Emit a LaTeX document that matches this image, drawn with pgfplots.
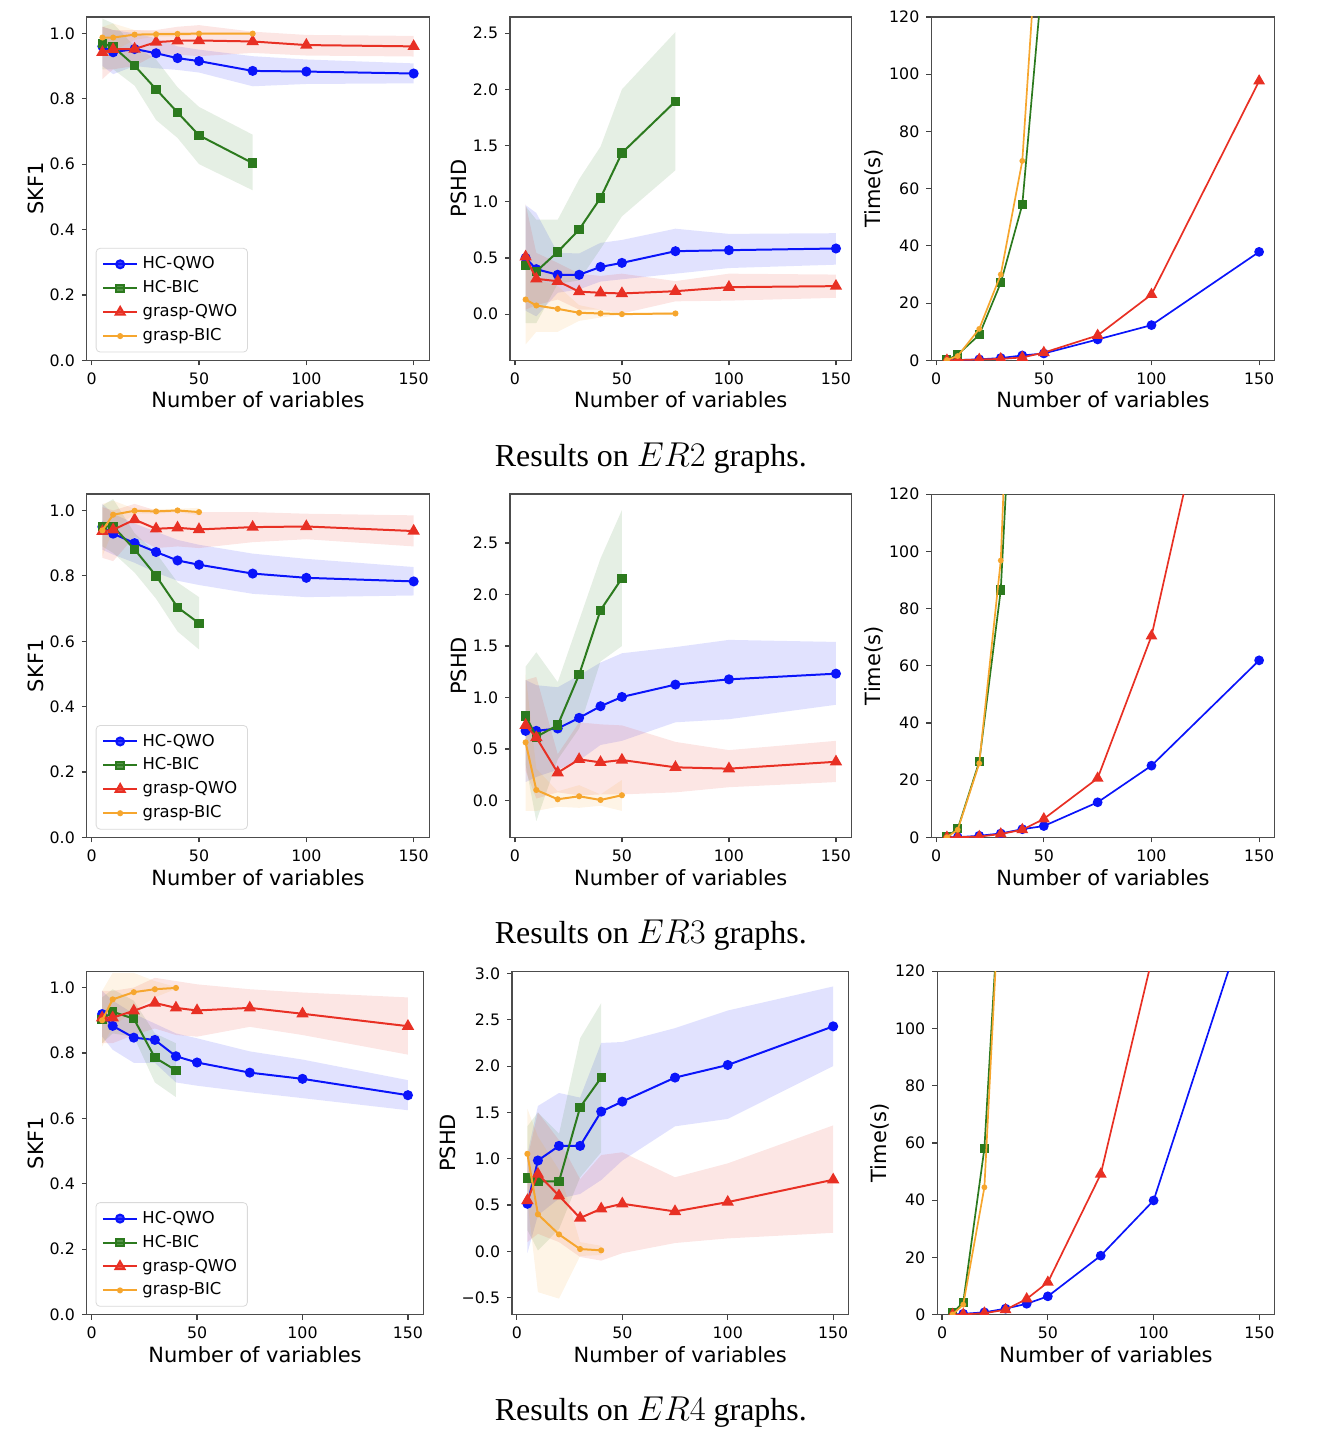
\documentclass[border=0pt]{standalone}
\usepackage{fontspec}
\setmainfont{DejaVu Sans}
\newfontfamily\capfont{Liberation Serif}
\usepackage{pgfplots}
\pgfplotsset{compat=1.18}
\usepackage{pgfplotstable}
\usepgfplotslibrary{fillbetween}

\definecolor{cq}{RGB}{10,20,250}
\definecolor{cb}{RGB}{44,122,30}
\definecolor{cr}{RGB}{232,48,36}
\definecolor{co}{RGB}{246,166,46}

% ---------- SKF1 / PSHD tables: x mean lo hi ----------
\pgfplotstableread{
x m lo hi
5 0.960 0.90 1.02
10 0.942 0.875 1.01
20 0.952 0.90 1.00
30 0.939 0.893 0.985
40 0.924 0.888 0.96
50 0.915 0.88 0.95
75 0.885 0.838 0.93
100 0.883 0.845 0.92
150 0.877 0.847 0.908
}\aOq
\pgfplotstableread{
x m lo hi
5 0.969 0.89 1.045
10 0.959 0.89 1.03
20 0.901 0.84 0.96
30 0.829 0.735 0.92
40 0.758 0.68 0.835
50 0.688 0.60 0.775
75 0.603 0.52 0.69
}\aOb
\pgfplotstableread{
x m lo hi
5 0.942 0.86 1.02
10 0.951 0.89 1.01
20 0.952 0.90 1.01
30 0.973 0.935 1.01
40 0.977 0.935 1.02
50 0.978 0.93 1.025
75 0.975 0.94 1.005
100 0.964 0.932 0.995
150 0.960 0.929 0.992
}\aOr
\pgfplotstableread{
x m lo hi
5 0.987 0.95 1.02
10 0.987 0.945 1.03
20 0.996 0.98 1.01
30 0.997 0.99 1.005
40 0.998 0.99 1.005
50 0.999 0.995 1.003
75 0.999 0.995 1.003
}\aOo

\pgfplotstableread{
x m lo hi
5 0.50 0.03 0.97
10 0.40 -0.02 0.90
20 0.35 0.19 0.545
30 0.35 0.22 0.54
40 0.42 0.29 0.634
50 0.456 0.31 0.66
75 0.56 0.36 0.76
100 0.569 0.41 0.714
150 0.584 0.44 0.72
}\aTq
\pgfplotstableread{
x m lo hi
5 0.435 -0.08 0.96
10 0.38 -0.08 0.84
20 0.554 0.27 0.84
30 0.752 0.30 1.20
40 1.034 0.58 1.49
50 1.434 0.87 2.00
75 1.893 1.28 2.51
}\aTb
\pgfplotstableread{
x m lo hi
5 0.51 0.04 0.98
10 0.314 0.08 0.545
20 0.293 0.13 0.456
30 0.20 0.04 0.36
40 0.19 0.04 0.34
50 0.184 0.005 0.36
75 0.204 0.114 0.294
100 0.24 0.12 0.36
150 0.249 0.145 0.352
}\aTr
\pgfplotstableread{
x m lo hi
5 0.13 -0.27 0.53
10 0.077 -0.157 0.31
20 0.047 -0.157 0.25
30 0.012 -0.06 0.08
40 0.006 -0.03 0.04
50 0.0 -0.005 0.005
75 0.006 -0.01 0.02
}\aTo

\pgfplotstableread{
x m lo hi
5 0.95 0.88 1.02
10 0.929 0.865 0.99
20 0.90 0.84 0.96
30 0.873 0.81 0.935
40 0.847 0.785 0.91
50 0.834 0.772 0.895
75 0.807 0.745 0.868
100 0.794 0.735 0.852
150 0.783 0.74 0.827
}\bOq
\pgfplotstableread{
x m lo hi
5 0.951 0.89 1.015
10 0.951 0.87 1.035
20 0.881 0.81 0.93
30 0.80 0.73 0.87
40 0.704 0.63 0.78
50 0.655 0.575 0.735
}\bOb
\pgfplotstableread{
x m lo hi
5 0.936 0.855 1.01
10 0.941 0.845 1.0
20 0.972 0.92 1.02
30 0.944 0.885 1.0
40 0.947 0.89 1.0
50 0.942 0.885 0.995
75 0.949 0.903 0.995
100 0.951 0.912 0.99
150 0.937 0.89 0.985
}\bOr
\pgfplotstableread{
x m lo hi
5 0.939 0.86 1.02
10 0.987 0.94 1.03
20 0.999 0.99 1.005
30 0.997 0.99 1.005
40 1.0 0.995 1.005
50 0.995 0.985 1.008
}\bOo

\pgfplotstableread{
x m lo hi
5 0.677 0.18 1.17
10 0.677 0.23 1.12
20 0.70 0.30 1.10
30 0.803 0.39 1.216
40 0.916 0.54 1.34
50 1.006 0.58 1.43
75 1.126 0.76 1.49
100 1.177 0.79 1.56
150 1.232 0.93 1.54
}\bTq
\pgfplotstableread{
x m lo hi
5 0.823 0.35 1.30
10 0.619 -0.20 1.44
20 0.732 0.40 1.15
30 1.223 0.70 1.75
40 1.848 1.35 2.35
50 2.158 1.50 2.82
}\bTb
\pgfplotstableread{
x m lo hi
5 0.732 0.29 1.17
10 0.613 0.02 1.20
20 0.271 0.08 0.45
30 0.40 0.05 0.76
40 0.371 0.06 0.74
50 0.394 0.06 0.73
75 0.323 0.08 0.57
100 0.31 0.13 0.49
150 0.377 0.18 0.58
}\bTr
\pgfplotstableread{
x m lo hi
5 0.565 -0.10 1.23
10 0.103 -0.10 0.31
20 0.013 -0.06 0.09
30 0.042 -0.07 0.15
40 0.006 -0.05 0.06
50 0.052 -0.10 0.20
}\bTo

\pgfplotstableread{
x m lo hi
5 0.919 0.85 0.99
10 0.883 0.81 0.96
20 0.847 0.77 0.92
30 0.840 0.77 0.89
40 0.79 0.71 0.86
50 0.771 0.70 0.845
75 0.740 0.68 0.805
100 0.721 0.662 0.78
150 0.671 0.625 0.717
}\cOq
\pgfplotstableread{
x m lo hi
5 0.902 0.83 0.97
10 0.926 0.86 0.995
20 0.905 0.85 0.96
30 0.786 0.71 0.86
40 0.747 0.665 0.83
}\cOb
\pgfplotstableread{
x m lo hi
5 0.908 0.83 0.99
10 0.908 0.83 0.99
20 0.929 0.855 1.0
30 0.953 0.875 1.03
40 0.938 0.855 1.02
50 0.930 0.85 1.01
75 0.938 0.88 0.995
100 0.92 0.855 0.985
150 0.882 0.795 0.97
}\cOr
\pgfplotstableread{
x m lo hi
5 0.90 0.82 0.99
10 0.964 0.88 1.045
20 0.986 0.93 1.045
30 0.995 0.97 1.02
40 0.999 0.996 1.002
}\cOo

\pgfplotstableread{
x m lo hi
5 0.514 -0.02 1.05
10 0.981 0.39 1.57
20 1.139 0.57 1.71
30 1.139 0.62 1.66
40 1.509 0.77 2.25
50 1.617 0.98 2.26
75 1.876 1.35 2.41
100 2.012 1.43 2.60
150 2.429 2.00 2.86
}\cTq
\pgfplotstableread{
x m lo hi
5 0.79 0.23 1.35
10 0.755 0.01 1.50
20 0.755 0.24 1.27
30 1.556 0.80 2.30
40 1.876 1.07 2.68
}\cTb
\pgfplotstableread{
x m lo hi
5 0.55 0.10 1.00
10 0.834 0.19 1.50
20 0.60 0.10 1.20
30 0.36 -0.06 0.78
40 0.46 -0.10 1.04
50 0.514 -0.02 1.07
75 0.431 0.09 0.80
100 0.532 0.14 0.95
150 0.773 0.20 1.36
}\cTr
\pgfplotstableread{
x m lo hi
5 1.053 0.56 1.54
10 0.40 -0.44 1.24
20 0.183 -0.51 0.88
30 0.025 -0.05 0.10
40 0.011 -0.04 0.06
}\cTo

% ---------- Time tables ----------
\pgfplotstableread{
x m
5 0.05
10 0.1
20 0.35
30 0.8
40 1.7
50 2.4
75 7.3
100 12.3
150 37.9
}\aHq
\pgfplotstableread{
x m
5 0.2
10 2.0
20 8.9
30 27.1
40 54.4
50 139.6
}\aHb
\pgfplotstableread{
x m
5 0.05
10 0.1
20 0.3
30 0.5
40 1.0
50 2.7
75 8.7
100 23.0
150 97.6
}\aHr
\pgfplotstableread{
x m
5 0.1
10 1.5
20 11.0
30 30.0
40 69.7
50 184
}\aHo

\pgfplotstableread{
x m
5 0.05
10 0.1
20 0.6
30 1.4
40 2.9
50 4.0
75 12.3
100 25.1
150 61.9
}\bHq
\pgfplotstableread{
x m
5 0.35
10 3.0
20 26.5
30 86.5
40 232
}\bHb
\pgfplotstableread{
x m
5 0.05
10 0.1
20 0.3
30 1.2
40 2.7
50 6.5
75 20.7
100 70.4
150 237
}\bHr
\pgfplotstableread{
x m
5 0.1
10 2.7
20 25.9
30 96.8
40 290
}\bHo

\pgfplotstableread{
x m
5 0.05
10 0.3
20 0.8
30 2.1
40 3.8
50 6.4
75 20.6
100 39.9
150 153.4
}\cHq
\pgfplotstableread{
x m
5 0.6
10 4.3
20 58.1
30 184
}\cHb
\pgfplotstableread{
x m
5 0.05
10 0.1
20 0.5
30 1.7
40 5.5
50 11.3
75 49.1
100 126.8
150 350
}\cHr
\pgfplotstableread{
x m
5 0.1
10 3.5
20 44.5
30 189.6
}\cHo

\pgfplotsset{
  pan/.style={scale only axis, height=172pt, anchor=south west,
    xmin=-2.25, xmax=157.25, xtick={0,50,100,150}, xticklabels={0,50,100,150},
    tick pos=left, tick align=outside, major tick length=2.5pt,
    axis line style={black!70, line width=0.6pt},
    tick style={black!75, line width=0.6pt},
    tick label style={font=\fontsize{7.9}{9}\selectfont},
    label style={font=\fontsize{10.5}{12}\selectfont},
    xlabel style={yshift=3pt}, ylabel style={yshift=-4pt},
    xlabel={Number of variables}, clip marker paths=true},
  skf/.style={ymin=0, ymax=1.05, ytick={0,0.2,0.4,0.6,0.8,1.0},
    yticklabels={0.0,0.2,0.4,0.6,0.8,1.0}, ylabel={SKF1},
    legend style={at={(0.026,0.023)}, anchor=south west, draw=black!15,
      rounded corners=2pt, fill=white, fill opacity=0.8, text opacity=1,
      font=\fontsize{8.2}{9.8}\selectfont, cells={anchor=west},
      nodes={inner sep=2.2pt}}},
  tim/.style={ymin=0, ymax=120, ytick={0,20,40,60,80,100,120},
    yticklabels={0,20,40,60,80,100,120}, ylabel={Time(s)}},
  sq/.style={color=cq, line width=1pt, mark=*, mark size=2.0pt},
  sb/.style={color=cb, line width=1pt, mark=square*, mark size=1.85pt},
  sr/.style={color=cr, line width=1pt, mark=triangle*, mark size=2.6pt},
  so/.style={color=co, line width=1pt, mark=*, mark size=1.0pt},
}

\newcommand{\band}[3]{%
  \addplot[draw=none, forget plot, name path=#3u] table[x=x,y=hi]{#1};
  \addplot[draw=none, forget plot, name path=#3l] table[x=x,y=lo]{#1};
  \addplot[fill=#2, fill opacity=0.12, draw=none, forget plot] fill between[of=#3u and #3l];
}
\newcommand{\four}[4]{% q b r o tables
  \band{#1}{cq}{pq}
  \addplot[sq] table[x=x,y=m]{#1};
  \band{#2}{cb}{pb}
  \addplot[sb] table[x=x,y=m]{#2};
  \band{#3}{cr}{pr}
  \addplot[sr] table[x=x,y=m]{#3};
  \band{#4}{co}{po}
  \addplot[so] table[x=x,y=m]{#4};
}
\newcommand{\fourt}[4]{%
  \addplot[sq, line width=0.85pt] table[x=x,y=m]{#1};
  \addplot[sb, line width=0.85pt] table[x=x,y=m]{#2};
  \addplot[sr, line width=0.85pt] table[x=x,y=m]{#3};
  \addplot[so, line width=0.85pt] table[x=x,y=m]{#4};
}
\newcommand{\leg}{\legend{HC-QWO,HC-BIC,grasp-QWO,grasp-BIC}}

\begin{document}
\begin{tikzpicture}

% ===== Row 1 (ER2) =====
\begin{axis}[pan, skf, at={(43.5pt,536.5pt)}, width=171.5pt]
\four{\aOq}{\aOb}{\aOr}{\aOo}
\leg
\end{axis}
\begin{axis}[pan, at={(255.5pt,536.5pt)}, width=171pt, ymin=-0.411, ymax=2.644,
  ytick={0,0.5,1,1.5,2,2.5}, yticklabels={0.0,0.5,1.0,1.5,2.0,2.5}, ylabel={PSHD}]
\four{\aTq}{\aTb}{\aTr}{\aTo}
\end{axis}
\begin{axis}[pan, tim, at={(466.5pt,536.5pt)}, width=172pt]
\fourt{\aHq}{\aHb}{\aHr}{\aHo}
\end{axis}
\node[font=\capfont\fontsize{16}{19}\selectfont, anchor=base] at (326pt,483.5pt) {Results on $ER2$ graphs.};

% ===== Row 2 (ER3) =====
\begin{axis}[pan, skf, at={(43.5pt,297.5pt)}, width=171.5pt]
\four{\bOq}{\bOb}{\bOr}{\bOo}
\leg
\end{axis}
\begin{axis}[pan, at={(255.5pt,297.5pt)}, width=171pt, ymin=-0.358, ymax=2.975,
  ytick={0,0.5,1,1.5,2,2.5}, yticklabels={0.0,0.5,1.0,1.5,2.0,2.5}, ylabel={PSHD}]
\four{\bTq}{\bTb}{\bTr}{\bTo}
\end{axis}
\begin{axis}[pan, tim, at={(466.5pt,297.5pt)}, width=172pt]
\fourt{\bHq}{\bHb}{\bHr}{\bHo}
\end{axis}
\node[font=\capfont\fontsize{16}{19}\selectfont, anchor=base] at (326pt,244.5pt) {Results on $ER3$ graphs.};

% ===== Row 3 (ER4) =====
\begin{axis}[pan, skf, at={(43.5pt,58.5pt)}, width=168.5pt]
\four{\cOq}{\cOb}{\cOr}{\cOo}
\leg
\end{axis}
\begin{axis}[pan, at={(256.5pt,58.5pt)}, width=168.5pt, ymin=-0.683, ymax=3.024,
  ytick={-0.5,0,0.5,1,1.5,2,2.5,3}, yticklabels={−0.5,0.0,0.5,1.0,1.5,2.0,2.5,3.0}, ylabel={PSHD}]
\four{\cTq}{\cTb}{\cTr}{\cTo}
\end{axis}
\begin{axis}[pan, tim, at={(469.5pt,58.5pt)}, width=169pt]
\fourt{\cHq}{\cHb}{\cHr}{\cHo}
\end{axis}
\node[font=\capfont\fontsize{16}{19}\selectfont, anchor=base] at (326pt,5.5pt) {Results on $ER4$ graphs.};

\path (0,0) rectangle (664pt,717pt);
\end{tikzpicture}
\end{document}
